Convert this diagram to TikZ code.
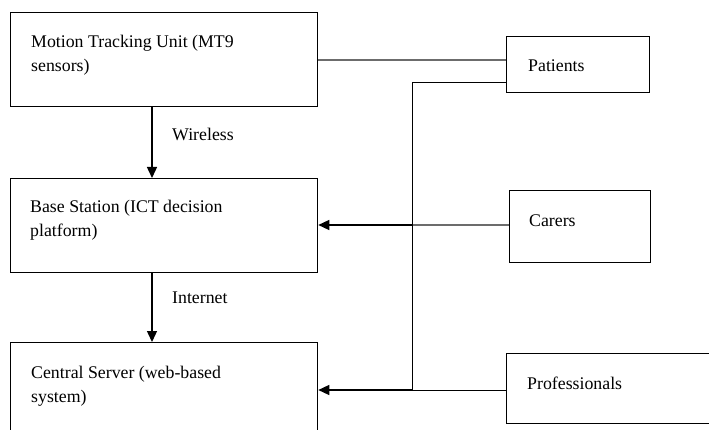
\documentclass[tikz,border=0pt]{standalone}
\usepackage{fontspec}
\setmainfont{Liberation Serif}
\usetikzlibrary{arrows.meta}
\begin{document}
\begin{tikzpicture}[x=1pt,y=-1pt,
  box/.style={draw=black,line width=1.3pt,rectangle,anchor=north west,inner sep=0pt},
  lbl/.style={anchor=west,align=left,inner sep=0pt,font=\fontsize{17.8}{24}\selectfont},
  arr/.style={line width=1.4pt,-{Triangle[length=11pt,width=10pt]}},
  grayline/.style={draw=gray!85!black,line width=1.8pt},
  blk/.style={draw=black,line width=1pt}]
\useasboundingbox (0,0) rectangle (709,430);
% boxes
\node[box,minimum width=307pt,minimum height=94pt] (mtu) at (10,12) {};
\node[box,minimum width=307pt,minimum height=94pt] (base) at (10,178) {};
\node[box,minimum width=307pt,minimum height=94pt] (central) at (10,342) {};
\node[box,minimum width=143pt,minimum height=56pt] (patients) at (506,36) {};
\node[box,minimum width=141pt,minimum height=72pt] (carers) at (509,190) {};
\node[box,minimum width=220pt,minimum height=70pt] (prof) at (506,353) {};
% labels
\node[lbl] (mtut) at (31,55) {Motion Tracking Unit (MT9\\sensors)};
\node[lbl] (baset) at (30,220) {Base Station (ICT decision\\platform)};
\node[lbl] (centralt) at (31,386) {Central Server (web-based\\system)};
\node[lbl] (patt) at (528,66) {Patients};
\node[lbl] (cart) at (529,221) {Carers};
\node[lbl] (proft) at (527,383) {Professionals};
% vertical arrows
\draw[arr] (mtu.south -| 152,0) -- (base.north -| 152,0);
\node[lbl] (wl) at (172,134) {Wireless};
\draw[arr] (base.south -| 152,0) -- (central.north -| 152,0);
\node[lbl] (il) at (172,298) {Internet};
% patients to MTU
\draw[grayline] (mtu.east |- 0,60) -- (patients.west |- 0,60);
% carers to base
\coordinate (cx) at (412,225);
\draw[grayline,line width=1.2pt] (carers.west |- cx) -- (cx);
\draw[arr] (cx) -- (base.east |- cx);
% patients to central
\coordinate (p1) at (412,83);
\coordinate (p2) at (412,390);
\draw[blk] (patients.west |- p1) -- (p1) -- (p2);
\draw[blk] (prof.west |- p2) -- (p2);
\draw[arr] (p2) -- (central.east |- p2);
\end{tikzpicture}
\end{document}
